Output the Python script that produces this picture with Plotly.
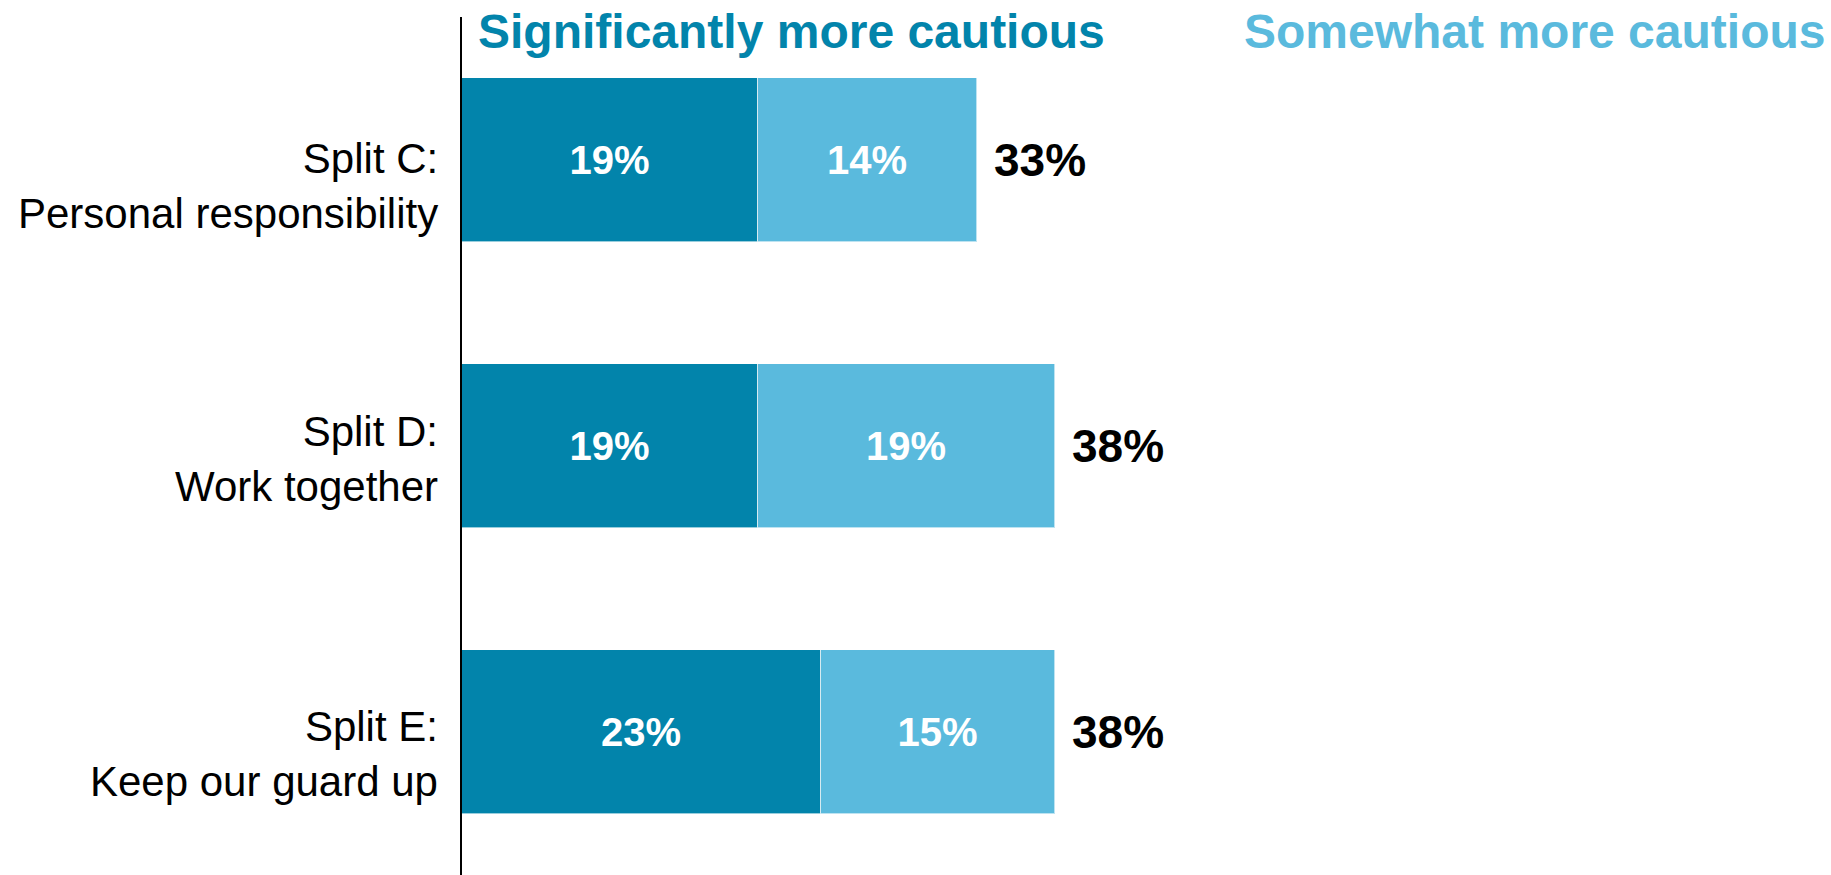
import plotly.graph_objects as go

# Survey results: share saying they would be more cautious, by message split
categories = ["Split C:<br>Personal responsibility", "Split D:<br>Work together", "Split E:<br>Keep our guard up"]
significantly = [19, 19, 23]
somewhat = [14, 19, 15]
totals = [33, 38, 38]
series_names = ["Significantly more cautious", "Somewhat more cautious"]

DARK = "#0284AB"
LIGHT = "#5ABADD"
FONT = "Arial, Liberation Sans, sans-serif"

ypos = list(range(len(categories)))

fig = go.Figure()
for vals, color, name in [(significantly, DARK, series_names[0]), (somewhat, LIGHT, series_names[1])]:
    fig.add_trace(go.Bar(
        x=vals, y=ypos, orientation="h", name=name,
        marker=dict(color=color, line=dict(color="rgba(255,255,255,0.6)", width=1)),
        width=0.573,
        text=[f"{v}%" for v in vals],
        textposition="inside", insidetextanchor="middle", textangle=0,
        constraintext="none",
        textfont=dict(family=FONT, size=40, color="white", weight="bold"),
        hoverinfo="skip",
    ))

annotations = []
# category labels to the left of the axis
label_shift = [-26, -13, -22]
for i, cat in enumerate(categories):
    annotations.append(dict(
        x=0, y=i, xref="x", yref="y", text=cat, showarrow=False,
        xanchor="right", yanchor="middle", align="right", xshift=-22, yshift=label_shift[i],
        font=dict(family=FONT, size=42, color="black"),
    ))
# totals at the end of each stacked bar
for i, t in enumerate(totals):
    annotations.append(dict(
        x=t, y=i, xref="x", yref="y", text=f"{t}%", showarrow=False,
        xanchor="left", yanchor="middle", xshift=15,
        font=dict(family=FONT, size=46, color="black", weight="bold"),
    ))
# series headers above the bars
for name, color, xpos in [(series_names[0], DARK, 1.1), (series_names[1], LIGHT, 50.2)]:
    annotations.append(dict(
        x=xpos, y=-0.44, xref="x", yref="y", text=name, showarrow=False,
        xanchor="left", yanchor="middle", xshift=-3, yshift=3,
        font=dict(family=FONT, size=48, color=color, weight="bold"),
    ))

fig.update_layout(
    barmode="stack",
    width=1831, height=875,
    margin=dict(l=462, r=45, t=17, b=0),
    plot_bgcolor="white", paper_bgcolor="white",
    showlegend=False,
    bargap=0,
    annotations=annotations,
    xaxis=dict(range=[0, 84.9], visible=False, fixedrange=True),
    yaxis=dict(range=[2.5, -0.5], showticklabels=False, ticks="", showgrid=False,
               zeroline=False, showline=True, linecolor="black", linewidth=2,
               fixedrange=True),
)

fig.write_html("out.html", config={"displayModeBar": False})
